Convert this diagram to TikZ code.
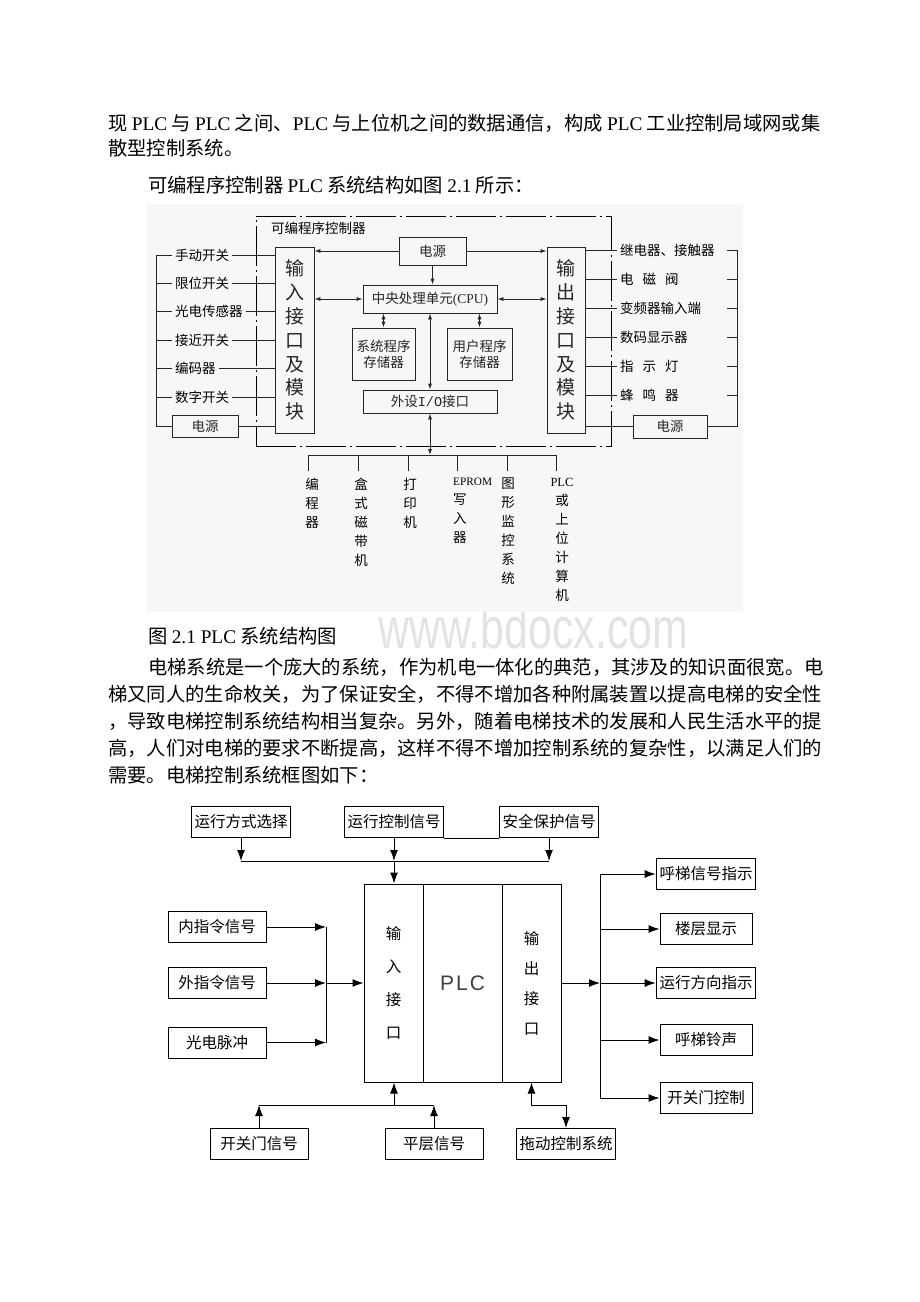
\documentclass[tikz,border=0pt]{standalone}
\usepackage{fontspec}
\setmainfont{Noto Sans CJK SC}
\newfontfamily\lat{Liberation Serif}
\newfontfamily\arial{Liberation Sans}
\newfontfamily\mono{Liberation Mono}
\usetikzlibrary{arrows.meta,positioning}

\begin{document}
\begin{tikzpicture}[x=1pt,y=-1pt,
    txt/.style={anchor=west, inner sep=0pt, font=\fontsize{19.3}{19.3}\selectfont},
    wire/.style={line width=0.8pt, black!85},
    wiretwo/.style={line width=1pt},
    lbl/.style={inner sep=3pt, font=\fontsize{13.5}{14}\selectfont},
    frame/.style={draw, line width=0.8pt, dash pattern=on 40pt off 4pt on 2pt off 4pt},
    modbox/.style={draw, wire, align=center, minimum height=186, font=\fontsize{19}{23.8}\selectfont},
    abox/.style={draw, wire, align=center, font=\fontsize{13.5}{16}\selectfont},
    stack/.style={anchor=north, inner sep=0pt, align=center, font=\fontsize{13.5}{19}\selectfont},
    sarr/.style={wire, -{Latex[length=6pt,width=4pt]}},
    darr/.style={wire, {Latex[length=6pt,width=4pt]}-{Latex[length=6pt,width=4pt]}},
    bbox/.style={draw, wiretwo, minimum width=98, minimum height=31, font=\fontsize{15.5}{15.5}\selectfont},
    plcsec/.style={draw, wiretwo, minimum height=198, align=center, font=\fontsize{15.5}{33}\selectfont},
    barr/.style={wiretwo, -{Latex[length=11pt,width=8pt]}},
  ]
  \useasboundingbox (0,0) rectangle (920,1302);
  \fill[white] (0,0) rectangle (920,1302);

  % body text
  \node[txt] (l1) at (108,123) {现 {\lat PLC} 与 {\lat PLC} 之间、{\lat PLC} 与上位机之间的数据通信，构成 {\lat PLC} 工业控制局域网或集};
  \node[txt] (l2) at (108,148) {散型控制系统。};
  \node[txt] (l3) at (148,185) {可编程序控制器 {\lat PLC} 系统结构如图 {\lat 2.1} 所示：};

  % watermark
  \node[anchor=base west, inner sep=0pt, text depth=0pt, text height=36pt, text=black!11, xscale=0.74, font=\arial\fontsize{58}{58}\selectfont] (wm) at (378,648) {www.bdocx.com};

  % ---- PLC structure figure ----
  \fill[black!3] (146,204) rectangle (743,612);
  \node[frame, minimum width=355, minimum height=230] (plcframe) at (433.5,331) {};
  \node[lbl, anchor=west] (framelbl) at (268,228) {可编程序控制器};

  \node[modbox, minimum width=39] (inmod) at (294.5,340) {输\\入\\接\\口\\及\\模\\块};
  \node[modbox, minimum width=38] (outmod) at (566,340) {输\\出\\接\\口\\及\\模\\块};
  \node[abox, minimum width=67, minimum height=28] (pwrtop) at (432.5,251) {电源};
  \node[abox, minimum width=134, minimum height=28] (cpu) at (430,299) {中央处理单元{\lat (CPU)}};
  \node[abox, minimum width=63, minimum height=52] (sysmem) at (383.5,354) {系统程序\\存储器};
  \node[abox, minimum width=65, minimum height=52] (usrmem) at (479.5,354) {用户程序\\存储器};
  \node[abox, minimum width=134, minimum height=23] (io) at (430,401.5) {外设{\mono I/O}接口};

  % inputs
  \node[lbl, anchor=west] (manual) at (172,255) {手动开关};
  \node[lbl, anchor=west] (limit) at (172,283.4) {限位开关};
  \node[lbl, anchor=west] (pesensor) at (172,311.8) {光电传感器};
  \node[lbl, anchor=west] (prox) at (172,340.2) {接近开关};
  \node[lbl, anchor=west] (encoder) at (172,368.6) {编码器};
  \node[lbl, anchor=west] (digsw) at (172,397) {数字开关};
  \node[abox, minimum width=66, minimum height=22] (pwrin) at (205,426) {电源};
  \coordinate (lbrk) at (156,0);

  % outputs
  \node[lbl, anchor=west] (relay) at (617,250) {继电器、接触器};
  \node[lbl, anchor=west] (valve) at (617,279) {电\hspace{9pt}磁\hspace{9pt}阀};
  \node[lbl, anchor=west] (vfd) at (617,308) {变频器输入端};
  \node[lbl, anchor=west] (disp) at (617,337) {数码显示器};
  \node[lbl, anchor=west] (lamp) at (617,366) {指\hspace{9pt}示\hspace{9pt}灯};
  \node[lbl, anchor=west] (buzzer) at (617,395) {蜂\hspace{9pt}鸣\hspace{9pt}器};
  \node[abox, minimum width=74, minimum height=23] (pwrout) at (670,426.5) {电源};
  \coordinate (rtick) at (727,0);
  \coordinate (rbrk) at (737,0);

  % peripherals
  \coordinate (t1) at (308,455);
  \coordinate (t2) at (358,455);
  \coordinate (t3) at (408,455);
  \coordinate (t4) at (457,455);
  \coordinate (t5) at (507,455);
  \coordinate (t6) at (556,455);
  \node[stack] (prog) at (312,478) {编\\程\\器};
  \node[stack] (tape) at (361,478) {盒\\式\\磁\\带\\机};
  \node[stack] (printer) at (410,478) {打\\印\\机};
  \node[stack, anchor=north west, align=left] (eprom) at (453,478) {{\lat\fontsize{11.3}{19}\selectfont EPROM}\\写\\入\\器};
  \node[stack] (monitor) at (508,478) {图\\形\\监\\控\\系\\统};
  \node[stack] (host) at (562,478) {{\lat\fontsize{12.5}{19}\selectfont PLC}\\或\\上\\位\\计\\算\\机};

  % connections
  \draw[sarr] (pwrtop.west) -- (pwrtop.west -| inmod.east);
  \draw[sarr] (pwrtop.east) -- (pwrtop.east -| outmod.west);
  \draw[sarr] (pwrtop.south) -- (pwrtop.south |- cpu.north);
  \draw[darr] (cpu.west) -- (cpu.west -| inmod.east);
  \draw[darr] (cpu.east) -- (cpu.east -| outmod.west);
  \draw[darr] (sysmem.north) -- (sysmem.north |- cpu.south);
  \draw[darr] (usrmem.north) -- (usrmem.north |- cpu.south);
  \draw[darr] (cpu.south) -- (io.north);
  \draw[darr] (io.south) -- (io.south |- t1);

  \draw[wire] (manual.west) -- (manual.west -| lbrk) -- (pwrin.west -| lbrk) -- (pwrin.west);
  \draw[wire] (limit.west) -- (limit.west -| lbrk);
  \draw[wire] (pesensor.west) -- (pesensor.west -| lbrk);
  \draw[wire] (prox.west) -- (prox.west -| lbrk);
  \draw[wire] (encoder.west) -- (encoder.west -| lbrk);
  \draw[wire] (digsw.west) -- (digsw.west -| lbrk);
  \draw[wire] (manual.east) -- (manual.east -| inmod.west);
  \draw[wire] (limit.east) -- (limit.east -| inmod.west);
  \draw[wire] (pesensor.east) -- (pesensor.east -| inmod.west);
  \draw[wire] (prox.east) -- (prox.east -| inmod.west);
  \draw[wire] (encoder.east) -- (encoder.east -| inmod.west);
  \draw[wire] (digsw.east) -- (digsw.east -| inmod.west);
  \draw[wire] (pwrin.east) -- (pwrin.east -| inmod.west);

  \draw[wire] (relay.west -| outmod.east) -- (relay.west);
  \draw[wire] (valve.west -| outmod.east) -- (valve.west);
  \draw[wire] (vfd.west -| outmod.east) -- (vfd.west);
  \draw[wire] (disp.west -| outmod.east) -- (disp.west);
  \draw[wire] (lamp.west -| outmod.east) -- (lamp.west);
  \draw[wire] (buzzer.west -| outmod.east) -- (buzzer.west);
  \draw[wire] (pwrout.west) -- (pwrout.west -| outmod.east);
  \draw[wire] (rtick |- relay.west) -- (rbrk |- relay.west) -- (rbrk |- pwrout.east) -- (pwrout.east);
  \draw[wire] (rtick |- valve.west) -- (rbrk |- valve.west);
  \draw[wire] (rtick |- vfd.west) -- (rbrk |- vfd.west);
  \draw[wire] (rtick |- disp.west) -- (rbrk |- disp.west);
  \draw[wire] (rtick |- lamp.west) -- (rbrk |- lamp.west);
  \draw[wire] (rtick |- buzzer.west) -- (rbrk |- buzzer.west);

  \draw[wire] (t1) -- (t6);
  \draw[wire, shorten >=7pt] (t1) -- (t1 |- prog.north);
  \draw[wire, shorten >=7pt] (t2) -- (t2 |- tape.north);
  \draw[wire, shorten >=7pt] (t3) -- (t3 |- printer.north);
  \draw[wire, shorten >=7pt] (t4) -- (t4 |- eprom.north);
  \draw[wire, shorten >=7pt] (t5) -- (t5 |- monitor.north);
  \draw[wire, shorten >=7pt] (t6) -- (t6 |- host.north);

  % caption and paragraph
  \node[txt] (cap) at (148,636) {图 {\lat 2.1 PLC} 系统结构图};
  \node[txt] (p1) at (148,667) {电梯系统是一个庞大的系统，作为机电一体化的典范，其涉及的知识面很宽。电};
  \node[txt] (p2) at (108,694) {梯又同人的生命枚关，为了保证安全，不得不增加各种附属装置以提高电梯的安全性};
  \node[txt] (p3) at (108,721) {，导致电梯控制系统结构相当复杂。另外，随着电梯技术的发展和人民生活水平的提};
  \node[txt] (p4) at (108,748) {高，人们对电梯的要求不断提高，这样不得不增加控制系统的复杂性，以满足人们的};
  \node[txt] (p5) at (108,775) {需要。电梯控制系统框图如下：};

  % ---- elevator control block diagram ----
  \node[bbox] (mode) at (241,822) {运行方式选择};
  \node[bbox] (runctl) at (394,822) {运行控制信号};
  \node[bbox] (safety) at (549,822) {安全保护信号};
  \coordinate (topbus) at (394,861);

  \node[plcsec, minimum width=59] (plcin) at (393.5,983) {输\\入\\接\\口};
  \node[plcsec, minimum width=79] (plccore) at (462.5,983) {\arial\fontsize{21}{21}\selectfont\color{black!75}P\hspace{2pt}L\hspace{2pt}C};
  \node[plcsec, minimum width=59, font=\fontsize{15.5}{30}\selectfont] (plcout) at (531.5,983) {输\\出\\接\\口};

  \node[bbox] (inner) at (217,927) {内指令信号};
  \node[bbox] (outer) at (217,983) {外指令信号};
  \node[bbox] (pulse) at (217,1042.5) {光电脉冲};
  \coordinate (merge) at (326,983);

  \node[bbox, minimum width=92] (callsig) at (706,874) {呼梯信号指示};
  \node[bbox, minimum width=92] (floor) at (706,929) {楼层显示};
  \node[bbox, minimum width=92] (dir) at (706,983) {运行方向指示};
  \node[bbox, minimum width=92] (bell) at (706,1040) {呼梯铃声};
  \node[bbox, minimum width=92] (doorctl) at (706,1098) {开关门控制};
  \coordinate (split) at (600,983);

  \node[bbox] (doorsig) at (259,1144) {开关门信号};
  \node[bbox] (levelsig) at (434,1144) {平层信号};
  \node[bbox] (drive) at (566,1144) {拖动控制系统};
  \coordinate (botbus) at (394,1105);

  % arrows
  \draw[wiretwo] (runctl.south east) -- (safety.south west);
  \draw[wiretwo] (mode.south |- topbus) -- (safety.south |- topbus);
  \draw[barr] (mode.south) -- (mode.south |- topbus);
  \draw[barr] (runctl.south) -- (topbus);
  \draw[barr] (safety.south) -- (safety.south |- topbus);
  \draw[barr] (topbus) -- (topbus |- plcin.north);

  \draw[barr] (inner.east) -- (inner.east -| merge);
  \draw[barr] (outer.east) -- (merge);
  \draw[barr] (pulse.east) -- (pulse.east -| merge);
  \draw[wiretwo] (inner.east -| merge) -- (pulse.east -| merge);
  \draw[barr] (merge) -- (plcin.west);

  \draw[barr] (plcout.east) -- (split);
  \draw[wiretwo] (split |- callsig.west) -- (split |- doorctl.west);
  \draw[barr] (split |- callsig.west) -- (callsig.west);
  \draw[barr] (split |- floor.west) -- (floor.west);
  \draw[barr] (split |- dir.west) -- (dir.west);
  \draw[barr] (split |- bell.west) -- (bell.west);
  \draw[barr] (split |- doorctl.west) -- (doorctl.west);

  \draw[barr] (botbus) -- (botbus |- plcin.south);
  \draw[wiretwo] (doorsig.north |- botbus) -- (levelsig.north |- botbus);
  \draw[barr] (doorsig.north) -- (doorsig.north |- botbus);
  \draw[barr] (levelsig.north) -- (levelsig.north |- botbus);
  \draw[wiretwo, {Latex[length=11pt,width=8pt]}-{Latex[length=11pt,width=8pt]}] (plcout.south) -- (plcout.south |- botbus) -| (drive.north);
\end{tikzpicture}
\end{document}
